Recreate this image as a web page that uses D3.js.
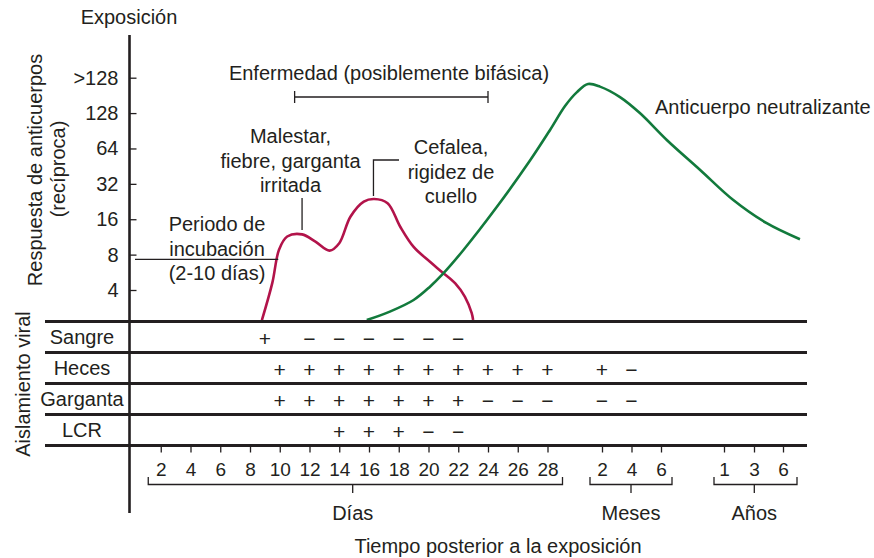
<!DOCTYPE html>
<html lang="es">
<head>
<meta charset="utf-8">
<script src="https://cdn.jsdelivr.net/npm/d3@7"></script>
<style>
  html, body { margin: 0; padding: 0; background: #fff; }
  svg { display: block; font-family: "Liberation Sans", Arial, Helvetica, sans-serif; }
  text { fill: #231f20; }
</style>
</head>
<body>
<svg id="chart" width="874" height="558"></svg>
<script>
// Titer axis (reciprocal antibody response)
const titerTicks  = [256, 128, 64, 32, 16, 8, 4];
const titerLabels = [">128", "128", "64", "32", "16", "8", "4"];

// Time axis: days, then months, then years (all expressed in days)
const dayTicks    = [2, 4, 6, 8, 10, 12, 14, 16, 18, 20, 22, 24, 26, 28];
const monthTicks  = [60, 120, 180];
const monthLabels = ["2", "4", "6"];
const yearTicks   = [365, 1095, 2190];
const yearLabels  = ["1", "3", "6"];

// Clinical course curve (day, titer-equivalent height)
const illnessDays  = [8.8, 9.5, 9.95, 10.5, 11.5, 12.4, 13.35, 14.0, 14.75, 15.65, 16.35, 17.25, 18.1, 19.0, 20.1, 20.9, 21.8, 22.45, 22.9, 23.0];
const illnessTiter = [2.22, 4.6, 8.8, 11.4, 11.9, 10.3, 8.65, 10.0, 16.8, 22.6, 23.8, 21.9, 13.8, 9.3, 6.95, 5.7, 4.55, 3.5, 2.55, 2.22];

// Neutralizing antibody curve (day, reciprocal titer)
const antibodyDays  = [15.85, 17.4, 19.0, 20.1, 20.9, 22.35, 24.6, 26.8, 29.5, 38.3, 45.3, 51.8, 58.8, 96.6, 137, 197, 295, 591, 1575, 2830];
const antibodyTiter = [2.22, 2.62, 3.29, 4.27, 5.37, 8.76, 20.4, 50, 92, 147, 193, 226, 215, 175, 128, 75.6, 42, 23.3, 14.8, 10.8];

// Viral isolation table
const sampleRows = ["Sangre", "Heces", "Garganta", "LCR"];
const sangreDays  = [9, 12, 14, 16, 18, 20, 22];
const sangreSigns = ["+", "−", "−", "−", "−", "−", "−"];
const hecesDays   = [10, 12, 14, 16, 18, 20, 22, 24, 26, 28, 60, 120];
const hecesSigns  = ["+", "+", "+", "+", "+", "+", "+", "+", "+", "+", "+", "−"];
const gargantaDays  = [10, 12, 14, 16, 18, 20, 22, 24, 26, 28, 60, 120];
const gargantaSigns = ["+", "+", "+", "+", "+", "+", "+", "−", "−", "−", "−", "−"];
const lcrDays  = [14, 16, 18, 20, 22];
const lcrSigns = ["+", "+", "+", "−", "−"];

const svg = d3.select("#chart");
const ink = "#231f20";
const redCol = "#b2134a";
const greenCol = "#127a3c";
const fs = 20;

const axisX = 129.5;
const x = d3.scaleLinear()
  .domain([0, 28, 60, 180, 365, 1095, 2190])
  .range([131, 547.5, 602, 661, 724, 754, 783]);
const y = d3.scaleLog().base(2).domain([4, 256]).range([290, 77.7]);

// rows of the isolation table
const rowTop = 321.5, rowH = 31;
const rowY = d3.scaleBand().domain(sampleRows).range([rowTop, rowTop + rowH * sampleRows.length]);

// ---- curves ----
const line = d3.line().x(d => x(d[0])).y(d => y(d[1])).curve(d3.curveCatmullRom.alpha(0.5));
svg.append("path")
  .datum(illnessDays.map((d, i) => [d, illnessTiter[i]]))
  .attr("d", line).attr("fill", "none").attr("stroke", redCol).attr("stroke-width", 2.6);
svg.append("path")
  .datum(antibodyDays.map((d, i) => [d, antibodyTiter[i]]))
  .attr("d", line).attr("fill", "none").attr("stroke", greenCol).attr("stroke-width", 2.6);

// ---- table lines ----
const tableLines = d3.range(sampleRows.length + 1).map(i => rowTop + i * rowH);
svg.selectAll("line.row").data(tableLines).join("line")
  .attr("x1", 45).attr("x2", 807).attr("y1", d => d).attr("y2", d => d)
  .attr("stroke", ink).attr("stroke-width", 2.8);

// vertical axis
svg.append("line").attr("x1", axisX).attr("x2", axisX).attr("y1", 35).attr("y2", 513)
  .attr("stroke", ink).attr("stroke-width", 2.6);

// ---- y axis ticks ----
const yAxis = d3.axisLeft(y).tickValues(titerTicks)
  .tickFormat((d, i) => titerLabels[i]).tickSize(-7).tickPadding(11);
const gy = svg.append("g").attr("transform", `translate(${axisX},0)`).call(yAxis);
gy.select(".domain").remove();
gy.selectAll(".tick line").attr("stroke", ink).attr("stroke-width", 1.3);
gy.selectAll(".tick text").attr("font-size", fs).attr("fill", ink)
  .attr("font-family", "'Liberation Sans', Arial, sans-serif");

// ---- x axis ticks ----
const allTicks = dayTicks.concat(monthTicks, yearTicks);
const allLabels = dayTicks.map(String).concat(monthLabels, yearLabels);
const xAxis = d3.axisBottom(x).tickValues(allTicks)
  .tickFormat((d, i) => allLabels[i]).tickSize(7).tickPadding(10);
const gx = svg.append("g").attr("transform", `translate(0,${tableLines[tableLines.length - 1]})`).call(xAxis);
gx.select(".domain").remove();
gx.selectAll(".tick line").attr("stroke", ink).attr("stroke-width", 1.3);
gx.selectAll(".tick text").attr("font-size", 19).attr("fill", ink)
  .attr("font-family", "'Liberation Sans', Arial, sans-serif");

// ---- group braces ----
const groups = [
  { name: "Días",  x0: x(dayTicks[0]) - 12.5,   x1: x(dayTicks[dayTicks.length - 1]) + 15, mid: 352.7 },
  { name: "Meses", x0: x(monthTicks[0]) - 12, x1: x(monthTicks[2]) + 11, mid: 631 },
  { name: "Años",  x0: x(yearTicks[0]) - 10,  x1: x(yearTicks[2]) + 14, mid: 754.3 }
];
const braceY = 484.5;
groups.forEach(g => {
  svg.append("path")
    .attr("d", `M${g.x0},477 V${braceY} H${g.x1} V477 M${g.mid},${braceY} V493`)
    .attr("fill", "none").attr("stroke", ink).attr("stroke-width", 1.3);
  svg.append("text").attr("x", g.mid).attr("y", 512.7).attr("dy", "0.35em")
    .attr("text-anchor", "middle").attr("font-size", fs).text(g.name);
});
svg.append("text").attr("x", 498).attr("y", 545.5).attr("dy", "0.35em")
  .attr("text-anchor", "middle").attr("font-size", fs).text("Tiempo posterior a la exposición");

// ---- table labels and signs ----
svg.selectAll("text.rowlab").data(sampleRows).join("text")
  .attr("x", 82).attr("y", d => rowY(d) + rowH / 2).attr("dy", "0.35em")
  .attr("text-anchor", "middle").attr("font-size", fs).text(d => d);

const rowMarks = [
  ["Sangre", sangreDays, sangreSigns],
  ["Heces", hecesDays, hecesSigns],
  ["Garganta", gargantaDays, gargantaSigns],
  ["LCR", lcrDays, lcrSigns]
];
rowMarks.forEach(([row, days, signs]) => {
  svg.selectAll(null).data(days).join("text")
    .attr("x", d => x(d)).attr("y", rowY(row) + rowH / 2 + 8.5)
    .attr("text-anchor", "middle").attr("font-size", 21).text((d, i) => signs[i]);
});

// ---- axis titles ----
svg.append("text").attr("x", 129).attr("y", 16.7).attr("dy", "0.35em")
  .attr("text-anchor", "middle").attr("font-size", fs).text("Exposición");
svg.append("text").attr("transform", "translate(41.5,170) rotate(-90)")
  .attr("text-anchor", "middle").attr("font-size", fs).text("Respuesta de anticuerpos");
svg.append("text").attr("transform", "translate(65,169) rotate(-90)")
  .attr("text-anchor", "middle").attr("font-size", fs).text("(recíproca)");
svg.append("text").attr("transform", "translate(29.5,384) rotate(-90)")
  .attr("text-anchor", "middle").attr("font-size", fs).text("Aislamiento viral");

// ---- annotations ----
const thin = 1.3;
svg.append("text").attr("x", 389).attr("y", 73).attr("dy", "0.35em")
  .attr("text-anchor", "middle").attr("font-size", fs).text("Enfermedad (posiblemente bifásica)");
svg.append("path")
  .attr("d", `M${x(11)},91 V103 M${x(11)},97 H${x(24)} M${x(24)},91 V103`)
  .attr("fill", "none").attr("stroke", ink).attr("stroke-width", thin);

const multi = (lines, cx, cy0, anchor) => lines.forEach((t, i) =>
  svg.append("text").attr("x", cx).attr("y", cy0 + i * 24.5).attr("dy", "0.35em")
    .attr("text-anchor", anchor).attr("font-size", fs).text(t));

multi(["Malestar,", "fiebre, garganta", "irritada"], 290.5, 136, "middle");
svg.append("line").attr("x1", x(11.5)).attr("x2", x(11.5)).attr("y1", 198).attr("y2", 230)
  .attr("stroke", ink).attr("stroke-width", thin);

multi(["Cefalea,", "rigidez de", "cuello"], 451, 147, "middle");
svg.append("path").attr("d", `M${x(16.3)},196 V160 H399`)
  .attr("fill", "none").attr("stroke", ink).attr("stroke-width", thin);

multi(["Periodo de", "incubación", "(2-10 días)"], 217, 224, "middle");
svg.append("line").attr("x1", 135).attr("x2", x(9.9)).attr("y1", 259.3).attr("y2", 259.3)
  .attr("stroke", ink).attr("stroke-width", thin);

svg.append("text").attr("x", 655).attr("y", 106.5).attr("dy", "0.35em")
  .attr("font-size", fs).text("Anticuerpo neutralizante");
</script>
</body>
</html>
